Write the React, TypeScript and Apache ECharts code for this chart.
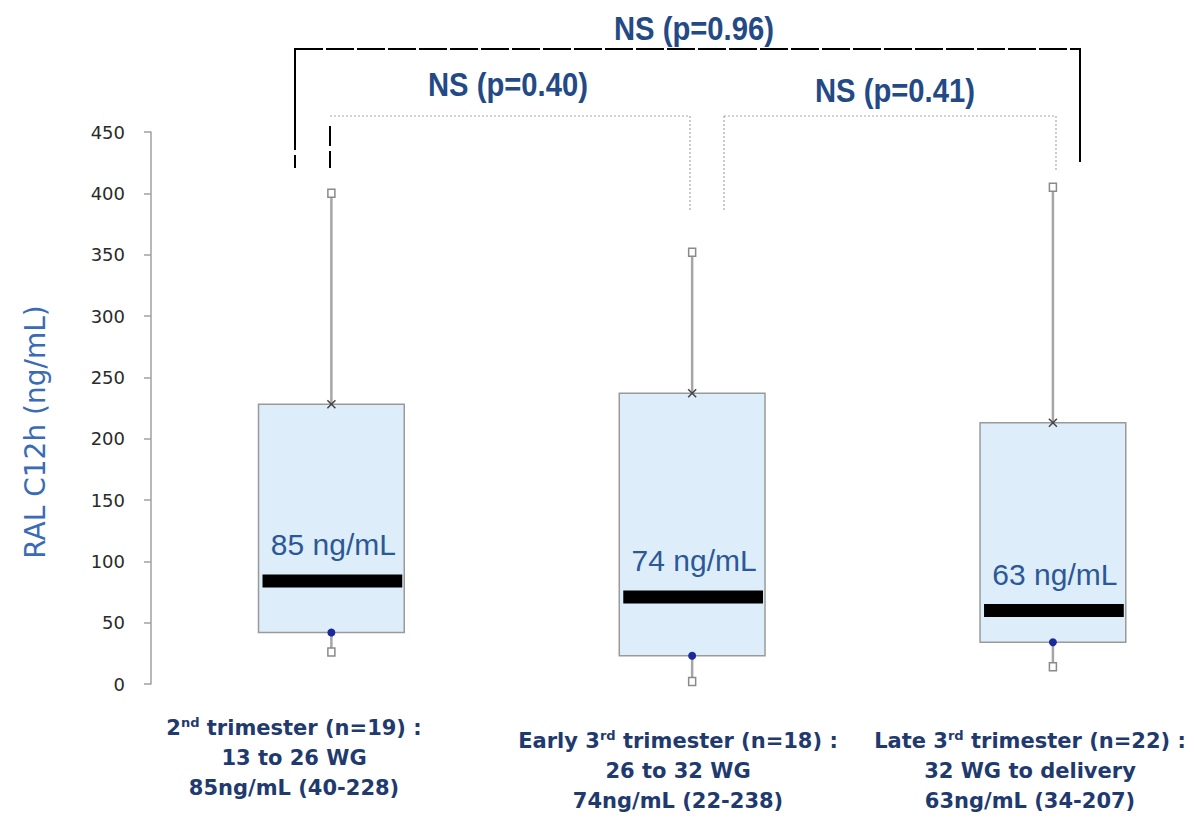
import React, { useEffect, useRef } from "react";
import * as echarts from "echarts";

// ---- data ----
const groups = ["2nd trimester", "Early 3rd trimester", "Late 3rd trimester"];
const whiskerLow = [26, 2, 14];
const quartile1 = [42, 23, 34];
const medians = [84, 71, 60];
const quartile3 = [228, 237, 213];
const whiskerHigh = [400, 352, 405];
const medianLabels = ["85 ng/mL", "74 ng/mL", "63 ng/mL"];
const groupLine1 = [
  ["2", "nd", " trimester (n=19) :"],
  ["Early 3", "rd", " trimester (n=18) :"],
  ["Late 3", "rd", " trimester (n=22) :"],
];
const groupLine2 = ["13 to 26 WG", "26 to 32 WG", "32 WG to delivery"];
const groupLine3 = ["85ng/mL (40-228)", "74ng/mL (22-238)", "63ng/mL (34-207)"];
const pValues = ["NS (p=0.96)", "NS (p=0.40)", "NS (p=0.41)"];
const yMin = 0;
const yMax = 450;
const yStep = 50;

const NAVY = "#1f3a6e";

export default function App() {
  const ref = useRef<HTMLDivElement>(null);
  useEffect(() => {
    if (!ref.current) return;
    const chart = echarts.init(ref.current, null, { renderer: "svg" });

    const data = groups.map((_, i) => [
      i,
      whiskerLow[i],
      quartile1[i],
      medians[i],
      quartile3[i],
      whiskerHigh[i],
    ]);

    const renderItem = (params: any, api: any) => {
      const i = api.value(0);
      const pLow = api.coord([i, api.value(1)]);
      const pQ1 = api.coord([i, api.value(2)]);
      const pMed = api.coord([i, api.value(3)]);
      const pQ3 = api.coord([i, api.value(4)]);
      const pHigh = api.coord([i, api.value(5)]);
      const cx = pQ1[0];
      const hw = api.size([0.404, 0])[0] / 2;
      const whiskerStyle = { stroke: "#a6a6a6", lineWidth: 2.5 };
      const markerStyle = { fill: "#ffffff", stroke: "#8a8a8a", lineWidth: 1.5 };
      return {
        type: "group",
        children: [
          {
            type: "line",
            shape: { x1: cx, y1: pHigh[1], x2: cx, y2: pQ3[1] },
            style: whiskerStyle,
          },
          {
            type: "line",
            shape: { x1: cx, y1: pQ1[1], x2: cx, y2: pLow[1] },
            style: whiskerStyle,
          },
          {
            type: "rect",
            shape: { x: cx - hw, y: pQ3[1], width: hw * 2, height: pQ1[1] - pQ3[1] },
            style: { fill: "#ddeefa", stroke: "#9a9a9a", lineWidth: 1.5 },
          },
          {
            type: "rect",
            shape: { x: cx - hw + 4, y: pMed[1] - 6.5, width: hw * 2 - 6, height: 13 },
            style: { fill: "#000000" },
          },
          {
            type: "rect",
            shape: { x: cx - 3.5, y: pHigh[1] - 4, width: 7, height: 8 },
            style: markerStyle,
          },
          {
            type: "rect",
            shape: { x: cx - 3.5, y: pLow[1] - 4, width: 7, height: 8 },
            style: markerStyle,
          },
          {
            type: "line",
            shape: { x1: cx - 4, y1: pQ3[1] - 4, x2: cx + 4, y2: pQ3[1] + 4 },
            style: { stroke: "#444", lineWidth: 1.5 },
          },
          {
            type: "line",
            shape: { x1: cx - 4, y1: pQ3[1] + 4, x2: cx + 4, y2: pQ3[1] - 4 },
            style: { stroke: "#444", lineWidth: 1.5 },
          },
          {
            type: "circle",
            shape: { cx: cx, cy: pQ1[1], r: 4 },
            style: { fill: "#1a2a9c" },
          },
          {
            type: "text",
            x: cx + 2,
            y: pMed[1] - 36,
            style: {
              text: medianLabels[i],
              fill: "#2d5897",
              fontSize: 30,
              fontFamily: "'Liberation Sans', Arial, sans-serif",
              align: "center",
              verticalAlign: "middle",
            },
          },
        ],
      };
    };

    const lineEl = (x1: number, y1: number, x2: number, y2: number, style: any) => ({
      type: "line",
      shape: { x1, y1, x2, y2 },
      style,
      silent: true,
    });
    const black = { stroke: "#000", lineWidth: 2 };
    const blackDash = { stroke: "#000", lineWidth: 2, lineDash: [28, 3] };
    const dotted = { stroke: "#a8a8a8", lineWidth: 1.2, lineDash: [2, 2] };

    const labelCenters = [
      [294, 728],
      [678, 741],
      [1030, 741],
    ];

    const categoryTexts = groups.map((_, i) => ({
      type: "text",
      x: labelCenters[i][0],
      y: labelCenters[i][1] - 15,
      style: {
        text:
          "{b|" + groupLine1[i][0] + "}{sup|" + groupLine1[i][1] + "}{b|" + groupLine1[i][2] + "}\n" +
          "{b|" + groupLine2[i] + "}\n{b|" + groupLine3[i] + "}",
        align: "center",
        verticalAlign: "top",
        rich: {
          b: {
            fontFamily: "'DejaVu Sans', sans-serif",
            fontWeight: "bold",
            fontSize: 21,
            lineHeight: 30,
            fill: NAVY,
          },
          sup: {
            fontFamily: "'DejaVu Sans', sans-serif",
            fontWeight: "bold",
            fontSize: 13,
            lineHeight: 30,
            verticalAlign: "top",
            padding: [3, 0, 0, 0],
            fill: NAVY,
          },
        },
      },
    }));

    const nsText = (text: string, x: number, y: number) => ({
      type: "text",
      x,
      y,
      scaleX: 0.86,
      style: {
        text,
        fill: "#234a85",
        fontFamily: "'Liberation Sans', Arial, sans-serif",
        fontWeight: "bold",
        fontSize: 34,
        align: "center",
        verticalAlign: "middle",
      },
    });

    chart.setOption({
      animation: false,
      grid: { left: 151, right: 8, top: 132, bottom: 134 },
      xAxis: {
        type: "value",
        min: -0.5,
        max: 2.38,
        show: false,
      },
      yAxis: {
        type: "value",
        min: yMin,
        max: yMax,
        interval: yStep,
        axisLine: { show: true, onZero: false, lineStyle: { color: "#a0a0a0", width: 1.5 } },
        axisTick: { show: true, length: 7, lineStyle: { color: "#a0a0a0", width: 1.5 } },
        axisLabel: {
          margin: 26,
          color: "#2a2a2a",
          fontSize: 18,
          fontFamily: "'DejaVu Sans', sans-serif",
        },
        splitLine: { show: false },
      },
      series: [
        {
          type: "custom",
          renderItem,
          data,
          encode: { x: 0, y: [1, 2, 3, 4, 5] },
          clip: false,
          z: 2,
        },
      ],
      graphic: [
        {
          type: "text",
          x: 35,
          y: 432,
          rotation: Math.PI / 2,
          style: {
            text: "RAL C12h (ng/mL)",
            fill: "#3a6cb5",
            fontSize: 28,
            fontFamily: "'DejaVu Sans', sans-serif",
            align: "center",
            verticalAlign: "middle",
          },
        },
        nsText(pValues[0], 694, 28),
        nsText(pValues[1], 508, 84),
        nsText(pValues[2], 895, 90),
        // big bracket
        lineEl(295, 49, 1080, 49, blackDash),
        lineEl(295, 48, 295, 150, black),
        lineEl(295, 155, 295, 168, black),
        lineEl(1080, 48, 1080, 162, black),
        // bracket 1
        lineEl(330, 116, 690, 116, dotted),
        lineEl(690, 116, 690, 210, dotted),
        lineEl(330, 126, 330, 146, black),
        lineEl(330, 151, 330, 168, black),
        // bracket 2
        lineEl(724, 116, 1056, 116, dotted),
        lineEl(724, 116, 724, 210, dotted),
        lineEl(1056, 116, 1056, 172, dotted),
        ...categoryTexts,
      ],
    });
    return () => chart.dispose();
  }, []);
  return (
    <div
      ref={ref}
      style={{ position: "absolute", left: 0, top: 0, width: 1198, height: 818 }}
    />
  );
}
